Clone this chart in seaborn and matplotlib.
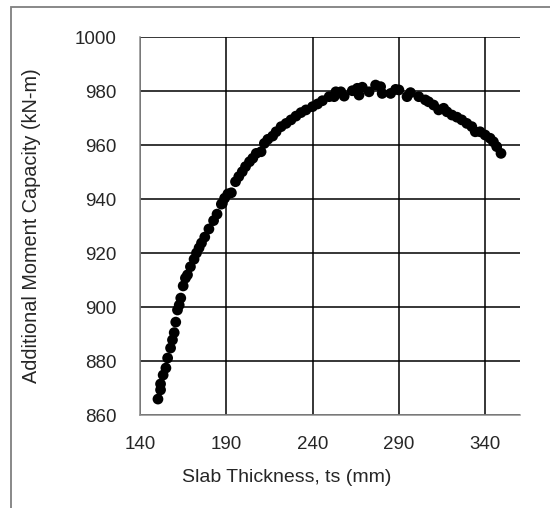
import matplotlib
matplotlib.use("Agg")
import matplotlib.pyplot as plt
import seaborn as sns
import pandas as pd
from matplotlib.patches import Rectangle

# Values
slab_thickness = [
    150.4, 151.9, 151.9, 153.4, 155.0, 156.0, 157.7, 158.8, 159.8, 160.7,
    161.7, 162.7, 163.6, 165.0, 166.3, 167.5, 169.2, 171.3, 172.7, 174.2,
    175.6, 177.5, 179.9, 182.6, 184.6, 187.1, 187.7, 189.0, 190.9, 192.9,
    195.3, 197.2, 199.2, 201.1, 203.4, 205.3, 207.3, 210.1, 212.0, 214.0,
    216.8, 218.8, 221.7, 224.6, 227.4, 230.3, 233.2, 236.1, 239.9, 242.8,
    245.6, 249.5, 252.4, 253.4, 256.3, 258.2, 262.9, 265.8, 266.8, 268.7,
    272.6, 276.4, 279.3, 280.2, 285.1, 288.0, 289.9, 294.6, 296.6, 301.4,
    305.2, 307.1, 310.0, 312.9, 315.8, 317.7, 320.6, 323.5, 326.3, 329.2,
    332.1, 334.1, 336.9, 339.8, 342.7, 344.6, 346.5, 349.0,
]
moment_capacity = [
    865.9, 869.3, 871.5, 874.8, 877.4, 881.1, 884.8, 887.8, 890.5, 894.4,
    898.9, 900.7, 903.3, 907.8, 910.7, 911.9, 914.9, 917.7, 920.0, 921.9,
    923.7, 925.9, 928.9, 932.0, 934.4, 938.1, 938.4, 940.3, 941.9, 942.3,
    946.4, 948.3, 950.1, 952.0, 953.8, 955.1, 956.9, 957.5, 960.6, 962.1,
    963.3, 964.9, 966.8, 968.0, 969.3, 970.7, 972.0, 973.0, 974.2, 975.2,
    976.4, 977.9, 977.9, 979.7, 979.7, 978.1, 980.1, 981.0, 978.5, 981.4,
    979.7, 982.2, 981.6, 979.1, 979.1, 980.6, 980.4, 977.9, 979.4, 977.9,
    976.7, 976.0, 974.8, 973.0, 973.6, 972.3, 971.1, 970.3, 969.3, 968.0,
    966.8, 964.9, 964.9, 963.7, 962.5, 961.2, 959.4, 956.9,
]
x_ticks = [140, 190, 240, 290, 340]
y_ticks = [860, 880, 900, 920, 940, 960, 980, 1000]

df = pd.DataFrame({"ts": slab_thickness, "moment": moment_capacity})

sns.set_style("white")
plt.rcParams["font.family"] = ["Liberation Sans", "DejaVu Sans"]

fig = plt.figure(figsize=(5.5, 5.08), dpi=100)
ax = fig.add_axes([140 / 550, 1 - 415 / 508, 380 / 550, 378 / 508])

sns.scatterplot(data=df, x="ts", y="moment", ax=ax, color="black",
                s=60, edgecolor="none", zorder=3)

ax.set_xlim(140, 360)
ax.set_ylim(860, 1000)
ax.set_xticks(x_ticks)
ax.set_yticks(y_ticks)
ax.grid(True, color="black", linewidth=1.1)
ax.set_axisbelow(True)
ax.tick_params(axis="x", length=0, pad=15, labelsize=13.5)
ax.tick_params(axis="y", length=0, pad=17, labelsize=13.5)

for side in ["top", "right"]:
    ax.spines[side].set_visible(False)
for side in ["left", "bottom"]:
    ax.spines[side].set_color("#8c8c8c")
    ax.spines[side].set_linewidth(1.1)

# Excel centres the axis titles on the chart area, not the plot area
ax.set_xlabel("Slab Thickness, ts (mm)", fontsize=14)
ax.xaxis.set_label_coords((287 - 140) / 380, -(477 - 415) / 378)
ax.xaxis.label.set_va("center")
ax.set_ylabel("Additional Moment Capacity (kN-m)", fontsize=14.3)
ax.yaxis.set_label_coords((32 - 140) / 380, (415 - 226) / 378)
ax.yaxis.label.set_va("center")

# Outer chart frame (cropped on the right and bottom)
fig.add_artist(Rectangle((10.5 / 550, -0.2), 1.2, 1.2 - 7 / 508,
                         transform=fig.transFigure, fill=False,
                         edgecolor="#7f7f7f", linewidth=1.3))

fig.savefig("out.png", dpi=100)
